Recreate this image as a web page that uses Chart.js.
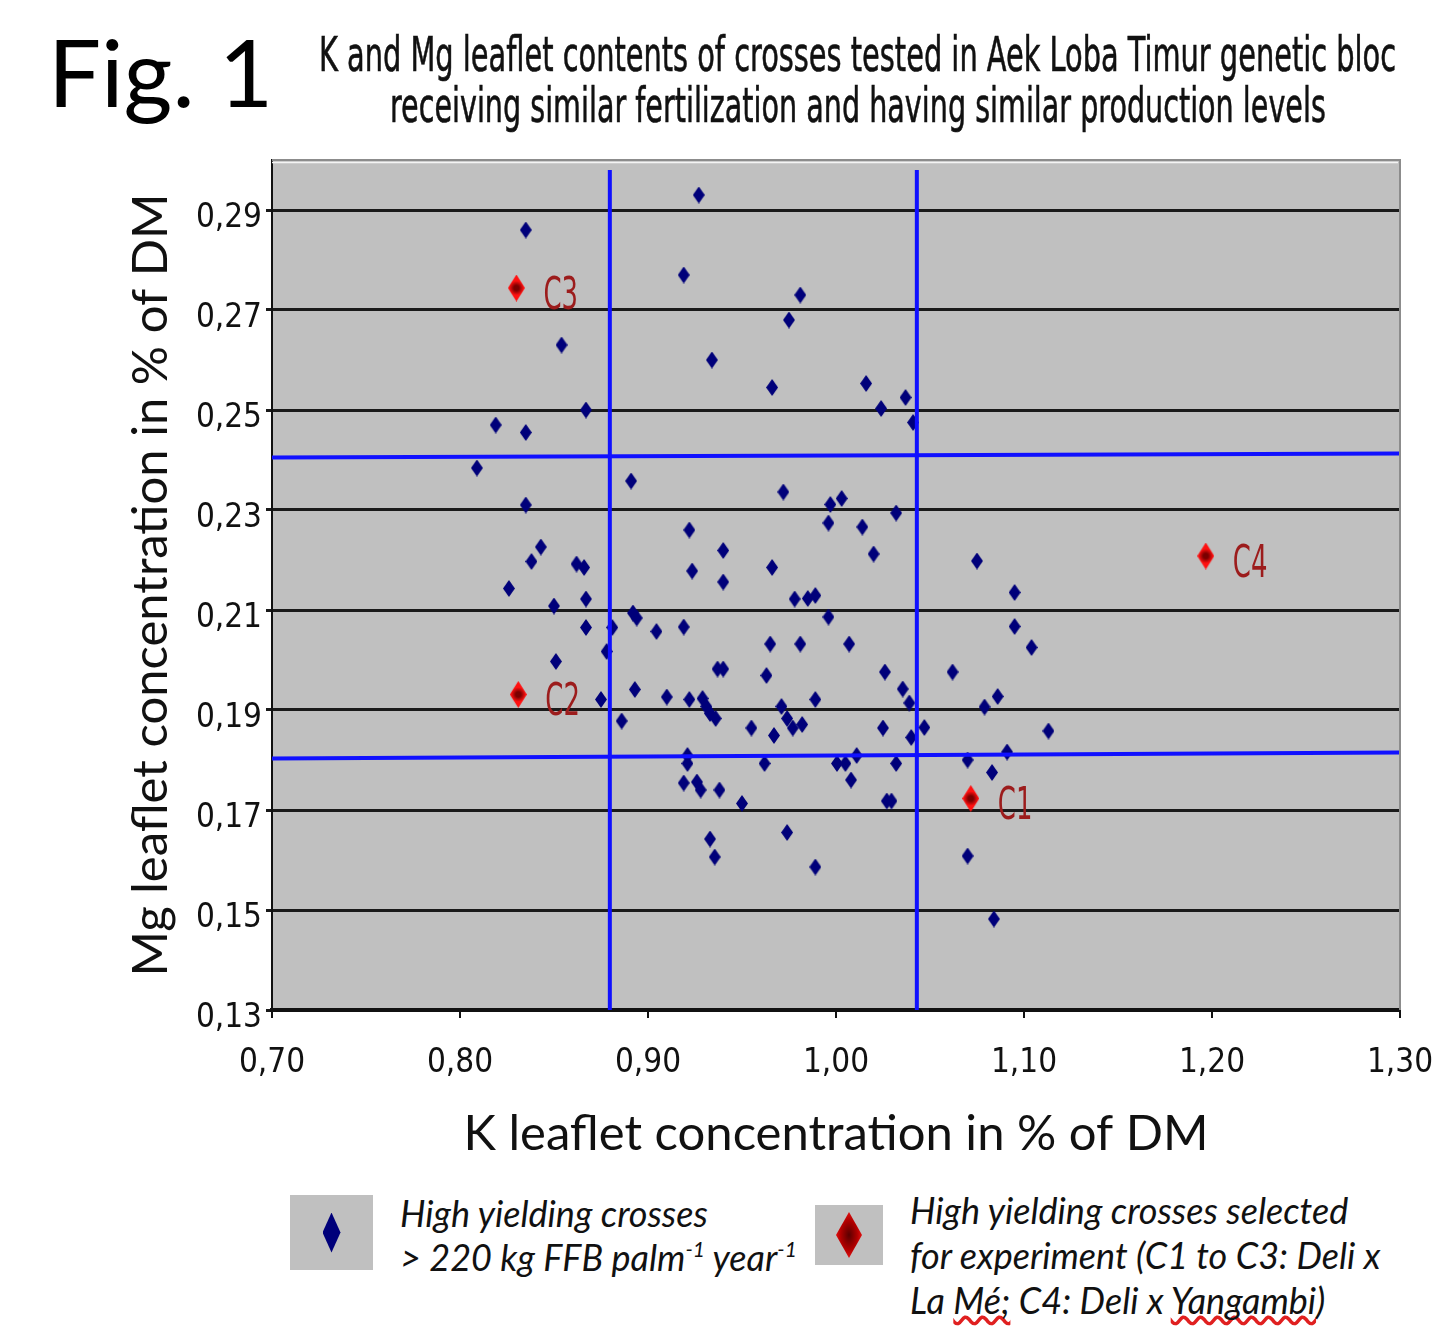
<!DOCTYPE html>
<html lang="en">

<head>
    <meta charset="UTF-8">
    <title>Fig. 1 - K and Mg leaflet contents</title>
    <script src="https://cdn.jsdelivr.net/npm/chart.js"></script>
    <style>
        body {
            margin: 0;
            background: #fff;
            width: 1436px;
            height: 1327px;
            position: relative;
            overflow: hidden;
        }

        .fig {
            position: absolute;
            left: 48px;
            top: 14px;
            font-family: Lato, sans-serif;
            font-size: 94px;
            color: #000;
        }

        .titulo {
            position: absolute;
            left: 300px;
            white-space: nowrap;
            font-family: 'Liberation Sans Narrow', 'DejaVu Sans Condensed', sans-serif;
            font-size: 40px;
            line-height: 40px;
            transform-origin: 0 0;
            color: #111;
            -webkit-text-stroke: 0.5px #111;
        }

        #grafico {
            position: absolute;
            left: 0;
            top: 0;
        }

        .caixa {
            position: absolute;
            background: #c0c0c0;
        }

        .diam {
            position: absolute;
            left: 50%;
            top: 50%;
            clip-path: polygon(50% 0, 100% 50%, 50% 100%, 0 50%);
            transform: translate(-50%, -50%);
        }

        .azul {
            width: 18px;
            height: 40px;
            background: #00007a;
            filter: blur(0.6px);
        }

        .vermelho {
            width: 26px;
            height: 46px;
            background: radial-gradient(ellipse at center, #5a0000 0%, #b00000 45%, #ff1a1a 85%);
        }

        .texto {
            position: absolute;
            font-family: Lato, sans-serif;
            font-style: italic;
            font-size: 36px;
            color: #111;
            white-space: nowrap;
        }

        .texto sup {
            font-size: 21px;
            vertical-align: 14px;
            line-height: 0;
        }

        .erro {
            text-decoration: underline wavy #e02020;
            text-decoration-skip-ink: none;
            text-underline-offset: 1px;
        }
    </style>
</head>

<body>
    <div class="fig">Fig. 1</div>
    <div class="titulo" id="titulo1" style="top:30px">K and Mg leaflet contents of crosses tested in Aek Loba Timur genetic bloc</div>
    <div class="titulo" id="titulo2" style="top:81px">receiving similar fertilization and having similar production levels</div>

    <canvas id="grafico" width="1436" height="1180"></canvas>

    <div class="caixa" style="left:290px;top:1195px;width:83px;height:75px">
        <div class="diam azul"></div>
    </div>
    <div class="texto" style="left:400px;top:1191px;line-height:44px">High yielding crosses<br>&gt; 220 kg FFB
        palm<sup>-1</sup> year<sup>-1</sup></div>

    <div class="caixa" style="left:815px;top:1205px;width:68px;height:60px">
        <div class="diam vermelho"></div>
    </div>
    <div class="texto" style="left:910px;top:1188px;line-height:45px">High yielding crosses selected<br>for experiment
        (C1 to C3: Deli x<br>La <span class="erro">Mé;</span> C4: Deli x <span class="erro">Yangambi</span>)</div>
</body>

</html>

<script>
    // eixos
    const xTicks = [0.70, 0.80, 0.90, 1.00, 1.10, 1.20, 1.30];
    const yTicks = [0.13, 0.15, 0.17, 0.19, 0.21, 0.23, 0.25, 0.27, 0.29];
    const yMax = 0.30;

    // cruzamentos de alta produção (K, Mg)
    const blueK = [
        0.835, 0.854, 0.867, 0.819, 0.835, 0.927, 0.919, 0.981, 0.975, 0.934,
        0.966, 1.016, 1.024, 1.037, 1.041, 0.809, 0.891, 0.835, 0.922, 0.940,
        0.843, 0.838, 0.862, 0.866, 0.9235, 0.940, 0.826, 0.867, 0.850, 0.892,
        0.894, 0.867, 0.881, 0.9045, 0.919, 0.878, 0.851, 0.937, 0.940, 0.893,
        0.875, 0.910, 0.922, 0.929, 0.931, 0.933, 0.936, 0.886, 0.955, 0.972,
        1.003, 0.997, 1.032, 0.996, 1.014, 1.020, 0.966, 1.075, 0.978, 0.985,
        0.989, 1.095, 0.996, 1.095, 0.965, 0.981, 1.007, 1.104, 0.963, 1.026,
        1.062, 1.0355, 1.086, 1.039, 0.971, 0.989, 1.079, 0.974, 0.977, 0.982,
        1.025, 1.047, 1.113, 0.967, 1.040, 1.011, 1.091, 0.921, 0.921, 0.962,
        1.0005, 1.005, 1.032, 1.070, 1.083, 0.919, 0.926, 0.928, 0.938, 0.950,
        1.008, 1.027, 1.0295, 0.933, 0.974, 0.9355, 0.989, 1.070, 1.084
    ];
    const blueMg = [
        0.286, 0.263, 0.250, 0.247, 0.2455, 0.293, 0.277, 0.273, 0.268, 0.260,
        0.2545, 0.2553, 0.2503, 0.2525, 0.2475, 0.2384, 0.2358, 0.231, 0.226, 0.2219,
        0.2226, 0.2197, 0.2192, 0.2185, 0.2178, 0.2156, 0.2143, 0.2122, 0.2108, 0.2094,
        0.2084, 0.2065, 0.2065, 0.2057, 0.2066, 0.2017, 0.1997, 0.1982, 0.1982, 0.1941,
        0.1921, 0.1926, 0.1921, 0.1923, 0.1907, 0.1893, 0.1883, 0.1878, 0.1864, 0.2336,
        0.2323, 0.2311, 0.2294, 0.2274, 0.2266, 0.2212, 0.2185, 0.2198, 0.2122, 0.2123,
        0.2129, 0.2135, 0.2086, 0.2067, 0.2032, 0.2032, 0.2032, 0.2025, 0.1969, 0.1976,
        0.1976, 0.1942, 0.1927, 0.1914, 0.1907, 0.1921, 0.1906, 0.1883, 0.1864, 0.1871,
        0.1864, 0.1865, 0.1858, 0.1849, 0.1845, 0.1809, 0.1816, 0.1809, 0.1793, 0.1793,
        0.1793, 0.1793, 0.1793, 0.180, 0.1775, 0.1754, 0.1756, 0.174, 0.174, 0.1713,
        0.176, 0.1718, 0.1718, 0.1642, 0.1655, 0.1606, 0.1586, 0.1608, 0.1482
    ];

    // cruzamentos selecionados
    const selNames = ['C1', 'C2', 'C3', 'C4'];
    const selK = [1.0717, 0.831, 0.830, 1.1967];
    const selMg = [0.1723, 0.1931, 0.2744, 0.2208];

    // linhas de referência
    const refK = [0.8797, 1.043];
    const refKTop = 0.298;
    const refMgLeft = [0.1803, 0.2405];
    const refMgRight = [0.1815, 0.2413];

    const fonteNarrow = "'Liberation Sans Narrow', 'DejaVu Sans Condensed', sans-serif";
    const fonteEixo = "Lato, sans-serif";

    // título: ajusta a largura de cada linha
    function ajustarTitulo(id, largura, centro) {
        const el = document.getElementById(id);
        const sx = largura / el.offsetWidth;
        el.style.left = (centro - largura / 2) + 'px';
        el.style.transform = 'scale(' + sx + ', 1.2)';
    }
    ajustarTitulo('titulo1', 1077, 857);
    ajustarTitulo('titulo2', 936, 858);

    function losango(w, h, cor1, cor2) {
        const c = document.createElement('canvas');
        c.width = w;
        c.height = h;
        const ctx = c.getContext('2d');
        ctx.beginPath();
        ctx.moveTo(w / 2, 0);
        ctx.lineTo(w, h / 2);
        ctx.lineTo(w / 2, h);
        ctx.lineTo(0, h / 2);
        ctx.closePath();
        if (cor2) {
            const g = ctx.createRadialGradient(w / 2, h / 2, 0, w / 2, h / 2, w / 2);
            g.addColorStop(0, cor1);
            g.addColorStop(0.3, cor1);
            g.addColorStop(0.85, cor2);
            g.addColorStop(1, cor2);
            ctx.fillStyle = g;
        } else {
            ctx.fillStyle = cor1;
        }
        ctx.fill();
        return c;
    }

    const pontoAzul = losango(12, 17, '#00007a');
    const pontoVermelho = losango(17, 27, '#7a0000', '#ff1010');

    const fundo = {
        id: 'fundo',
        beforeDraw(chart) {
            const { ctx, chartArea: a } = chart;
            ctx.save();
            ctx.fillStyle = '#c0c0c0';
            ctx.fillRect(a.left, a.top, a.right - a.left, a.bottom - a.top);
            ctx.restore();
        },
        afterDraw(chart) {
            const { ctx, chartArea: a } = chart;
            ctx.save();
            ctx.strokeStyle = '#8c8c8c';
            ctx.lineWidth = 2;
            ctx.beginPath();
            ctx.moveTo(a.left, a.top);
            ctx.lineTo(a.right, a.top);
            ctx.lineTo(a.right, a.bottom);
            ctx.stroke();
            ctx.strokeStyle = '#f4f4f4';
            ctx.lineWidth = 1.5;
            ctx.beginPath();
            ctx.moveTo(a.left, a.top + 2.5);
            ctx.lineTo(a.right - 2, a.top + 2.5);
            ctx.stroke();
            ctx.restore();
        }
    };

    const rotulos = {
        id: 'rotulos',
        afterDatasetsDraw(chart) {
            const ctx = chart.ctx;
            const meta = chart.getDatasetMeta(1);
            ctx.save();
            ctx.fillStyle = '#9c1c1c';
            ctx.font = '32px ' + fonteNarrow;
            ctx.textBaseline = 'middle';
            meta.data.forEach((p, i) => {
                ctx.save();
                ctx.translate(p.x + 27, p.y + 9);
                ctx.scale(0.9, 1.4);
                ctx.fillText(selNames[i], 0, 0);
                ctx.restore();
            });
            ctx.restore();
        }
    };

    function linha(pontos) {
        return {
            type: 'line',
            data: pontos,
            borderColor: '#1010ff',
            borderWidth: 4,
            pointRadius: 0,
            fill: false,
            tension: 0,
            order: 1
        };
    }

    const datasets = [
        {
            label: 'High yielding crosses',
            data: blueK.map((k, i) => ({ x: k, y: blueMg[i] })),
            pointStyle: pontoAzul,
            pointRadius: 6,
            order: 2
        },
        {
            label: 'Selected crosses',
            data: selK.map((k, i) => ({ x: k, y: selMg[i] })),
            pointStyle: pontoVermelho,
            pointRadius: 9,
            order: 0
        }
    ];
    refK.forEach(k => datasets.push(linha([{ x: k, y: yTicks[0] }, { x: k, y: refKTop }])));
    refMgLeft.forEach((mg, i) => datasets.push(linha([
        { x: xTicks[0], y: mg },
        { x: xTicks[xTicks.length - 1], y: refMgRight[i] }
    ])));

    const formato = v => Number(v).toFixed(2).replace('.', ',');

    new Chart(document.getElementById('grafico'), {
        type: 'scatter',
        data: { datasets: datasets },
        options: {
            responsive: false,
            animation: false,
            layout: { padding: { top: 160, right: 36, left: 0, bottom: 0 } },
            plugins: {
                legend: { display: false },
                tooltip: { enabled: false }
            },
            scales: {
                x: {
                    type: 'linear',
                    min: xTicks[0],
                    max: xTicks[xTicks.length - 1],
                    afterBuildTicks: s => { s.ticks = xTicks.map(v => ({ value: v })); },
                    afterFit: s => {
                        s.height = 170;
                        s.paddingLeft = 0;
                        s.paddingRight = 0;
                    },
                    grid: { drawOnChartArea: false, drawTicks: true, tickLength: 8, color: '#111', lineWidth: 2 },
                    border: { display: true, color: '#111', width: 4 },
                    ticks: {
                        callback: formato,
                        autoSkip: false,
                        maxRotation: 0,
                        padding: 26,
                        color: '#111',
                        font: { family: fonteNarrow, size: 33 }
                    },
                    title: {
                        display: true,
                        text: 'K leaflet concentration in % of DM',
                        color: '#111',
                        font: { family: fonteEixo, size: 49 },
                        padding: { top: 0, bottom: 16 }
                    }
                },
                y: {
                    type: 'linear',
                    min: yTicks[0],
                    max: yMax,
                    afterBuildTicks: s => { s.ticks = yTicks.map(v => ({ value: v })); },
                    afterFit: s => { s.width = 272; },
                    grid: { drawOnChartArea: true, drawTicks: true, tickLength: 6, color: '#1a1a1a', lineWidth: 3 },
                    border: { display: true, color: '#111', width: 2 },
                    ticks: {
                        callback: formato,
                        autoSkip: false,
                        padding: 4,
                        labelOffset: 8,
                        color: '#111',
                        font: { family: fonteNarrow, size: 33 }
                    },
                    title: {
                        display: true,
                        text: 'Mg leaflet concentration in % of DM',
                        color: '#111',
                        font: { family: fonteEixo, size: 49 },
                        padding: { top: 122, bottom: 0 }
                    }
                }
            }
        },
        plugins: [fundo, rotulos]
    });
</script>
